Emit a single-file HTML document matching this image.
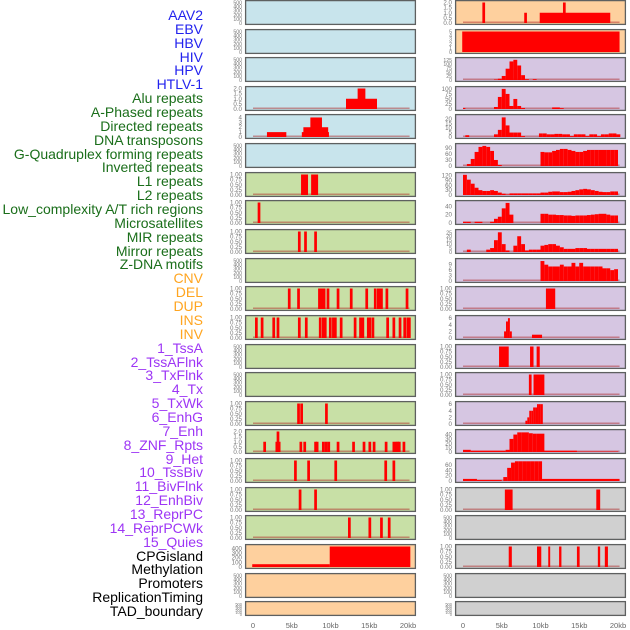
<!DOCTYPE html>
<html><head><meta charset="utf-8">
<style>
html,body{margin:0;padding:0;background:#fff;}
#wrap{position:relative;width:630px;height:630px;overflow:hidden;font-family:"Liberation Sans",sans-serif;}
.lab{position:absolute;right:427px;font-size:14px;line-height:14px;white-space:nowrap;}
svg{position:absolute;left:0;top:0;}
</style></head>
<body>
<div id="wrap">
<svg id="chart" width="630" height="630"></svg>
</div>
<script>
// ---- labels ----
const labelTexts=["AAV2","EBV","HBV","HIV","HPV","HTLV-1","Alu repeats","A-Phased repeats","Directed repeats","DNA transposons","G-Quadruplex forming repeats","Inverted repeats","L1 repeats","L2 repeats","Low_complexity A/T rich regions","Microsatellites","MIR repeats","Mirror repeats","Z-DNA motifs","CNV","DEL","DUP","INS","INV","1_TssA","2_TssAFlnk","3_TxFlnk","4_Tx","5_TxWk","6_EnhG","7_Enh","8_ZNF_Rpts","9_Het","10_TssBiv","11_BivFlnk","12_EnhBiv","13_ReprPC","14_ReprPCWk","15_Quies","CPGisland","Methylation","Promoters","ReplicationTiming","TAD_boundary"];
const labelGroups=[0,0,0,0,0,0,1,1,1,1,1,1,1,1,1,1,1,1,1,2,2,2,2,2,3,3,3,3,3,3,3,3,3,3,3,3,3,3,3,4,4,4,4,4];
const groupColors=["#2222ee","#1a6e1a","#ffa520","#9d35f5","#000000"];

// ---- x axis ----
const xTicks=[0,5,10,15,20];
const xTickLabels=["0","5kb","10kb","15kb","20kb"];

// ---- panel data (segments: [startKb, endKb, value]) ----
const SP=0.35;
const L3=[[12,16,1],[13.5,14.5,2]];
const L4=[[1.8,4.3,1],[6.3,9.8,1],[6.5,9.7,2],[7.4,8.9,4]];
const L6=[[6.2,7.1,1],[7.5,8.4,1]];
const L7=[0.6];
const L8=[5.8,6.6,7.9];
const L10=[4.5,5.7,8.4,8.6,8.8,9.0,9.5,10.8,12.5,14.5,15.6,16.0,16.2,16.4,17.1,19.7];
const L11=[0.26,1.0,2.5,3.05,5.8,6.7,8.5,8.9,9.15,9.8,10.2,10.45,11.2,13.0,13.7,14.0,14.7,14.9,15.3,17.2,18.0,18.8,19.4,19.8,20.0];
const L14=[5.7,6.1,9.3];
const L15a=[1.33,2.9,3.2,6.0,6.5,7.9,8.1,8.9,9.25,9.6,10.8,12.8,14.15,14.9,15.45,17.0,18.0,18.3,18.5,18.7,19.3];
const L15b=[3.05];
const L16=[5.3,7.0,10.5,16.95,18.0];
const L17=[5.9,7.9];
const L18=[12.26,14.9,16.4,17.4];
const L19=[[-0.1,9.9,60],[9.9,20.3,460]];
const R0=[[9.9,19.0,1],[2.5,2.5+SP,2],[7.9,7.9+SP,1],[12.9,12.9+SP,2]];
const R1=[[-0.1,20.2,5]];
const R2v=[3,8,25,70,115,125,90,30,5,0,5];
const R3v=[10,60,100,75,15,50,15,5];
const R3x=[[11.5,12.5,8],[12.5,13,4],[0,0.3,5]];
const R4a=[3,8,22,13,5,5,5,1];
const R4b=[4,4,3,3,3.5,3.5,3,3,1,3,3,3,1,3,3,1,3,3,4,4,3];
const R5a=[10,35,70,95,100,95,75,30,5];
const R5b=[70,68,68,75,80,85,85,80,75,70,70,75,80,80,80,80,80,80,80,80];
const R6a=[125,95,70,45,30,25,25,30,25,15,8,3];
const R6b=[10,10,10,10,10,10,10,10,15,15,20,22,22,18,18,20,25,30,35,38,35,30,25,20,18,18,22,22];
const R7a=[3,3,0,3,3,0,0,3,10,15,35,48,20];
const R7b=[22,22,20,20,19,19,18,18,17,18,18,18,19,20,21,22,22,20,18,18];
const R8a=[0,3,0,0,0,0,3,5,15,25,10,2,0,8,20,10,2,3,3,3];
const R8b=[8,9,10,10,8,6,4,4,4,5,5,5,4,4,4,4,4,4,4,4];
const R9v=[11,9,8,8,8,9,8,8,10,8,10,8,8,8,8,8,7,7,6,6.5];
const R10=[[10.7,11.9,1]];
const R11=[[5.3,5.55,2],[5.55,5.8,5],[5.8,6.05,6],[6.05,6.3,2],[8.9,10.2,1]];
const R12=[[4.65,5.9,1],[8.65,9.1,1],[9.5,9.9,1]];
const R13=[[8.5,8.85,1],[9.1,10.5,1]];
const R14v=[1,2,4,4,5,5,6,6,6];
const R15a=[[0,1,5],[1,5.5,3],[10.15,14.7,3],[14.7,20,1]];
const R15b=[5,30,40,45,45,45,43,42,42,42];
const R16a=[[0,1.8,8],[1.8,5,4],[10.2,20.2,8]];
const R16b=[15,50,70,75,75,75,75,75,75,75];
const R17=[[5.4,6.4,1],[17.2,17.7,1]];
const R19=[[5.9,6.3,1],[9.55,10.1,1],[11.0,11.25,1],[12.4,12.7,1],[14.7,15.05,1],[17.4,17.7,1],[18.3,18.7,1]];

function spikes(a,v){return a.map(x=>[x,x+SP,v===undefined?1:v]);}
function bins(start,w,vals){return vals.map((v,i)=>[start+i*w,start+(i+1)*w,v]);}

const T500=[0,100,200,300,400,500], T1=[0,0.25,0.5,0.75,1], T1L=["0.00","0.25","0.50","0.75","1.00"];
const BLUE="#c8e4ec",GREEN="#c8e0a6",ORANGE="#fed09e",PURPLE="#d6c6e2",GRAY="#d0d0d0";
function P(bg,ticks,yMax,segs,labels,base){return {bg,ticks,yMax,segs,labels:labels||ticks.map(String),base:base!==false};}
const T2=[0,0.5,1,1.5,2],T2L=["0.0","0.5","1.0","1.5","2.0"];
const leftPanels=[
 P(BLUE,T500,500,[],null,false),P(BLUE,T500,500,[],null,false),P(BLUE,T500,500,[],null,false),
 P(BLUE,T2,2,L3,T2L),P(BLUE,[0,1,2,3,4],4.2,L4),P(BLUE,T500,500,[],null,false),
 P(GREEN,T1,1,L6,T1L),P(GREEN,T1,1,spikes(L7),T1L),P(GREEN,T1,1,spikes(L8),T1L),P(GREEN,T500,500,[],null,false),
 P(GREEN,T1,1,spikes(L10),T1L),P(GREEN,T1,1,spikes(L11),T1L),P(GREEN,T500,500,[],null,false),P(GREEN,T500,500,[],null,false),
 P(GREEN,T1,1,spikes(L14),T1L),P(GREEN,T2,2,spikes(L15a).concat(spikes(L15b,2)),T2L),P(GREEN,T1,1,spikes(L16),T1L),
 P(GREEN,T1,1,spikes(L17),T1L),P(GREEN,T1,1,spikes(L18),T1L),
 P(ORANGE,[0,100,200,300,400],440,L19),P(ORANGE,T500,500,[],null,false),P(ORANGE,T500,500,[],null,false)];
const rightPanels=[
 P(ORANGE,T2,2,R0,T2L),P(ORANGE,[0,1,2,3,4,5],5,R1),
 P(PURPLE,[0,25,50,75,100,125],127,bins(4,0.5,R2v)),P(PURPLE,[0,25,50,75,100],102,bins(4,0.5,R3v).concat(R3x)),
 P(PURPLE,[0,5,10,15,20],23,bins(4,0.5,R4a).concat(bins(9.8,0.5,R4b),[[0.3,0.8,2]])),
 P(PURPLE,[0,30,60,90],102,bins(0.5,0.5,R5a).concat(bins(10,0.5,R5b))),
 P(PURPLE,[0,30,60,90,120],127,bins(0,0.5,R6a).concat(bins(6,0.5,R6b))),
 P(PURPLE,[0,20,40],49,bins(0,0.5,R7a).concat(bins(10,0.5,R7b))),
 P(PURPLE,[0,5,10,15,20,25],26,bins(0,0.5,R8a).concat(bins(10,0.5,R8b))),
 P(PURPLE,[0,3,6,9],11.3,bins(10,0.5,R9v)),
 P(PURPLE,T1,1,R10,T1L),P(PURPLE,[0,2,4,6],6.2,R11),P(PURPLE,T1,1,R12,T1L),P(PURPLE,T1,1,R13,T1L),
 P(PURPLE,[0,2,4,6],6.2,bins(8.05,0.25,R14v)),
 P(PURPLE,[0,10,20,30,40],47,R15a.concat(bins(5.5,0.5,R15b))),
 P(PURPLE,[0,20,40,60],78,R16a.concat(bins(5.2,0.5,R16b))),
 P(GRAY,T1,1,R17,T1L),P(GRAY,T500,500,[],null,false),P(GRAY,T1,1,R19,T1L),
 P(GRAY,T500,500,[],null,false),P(GRAY,T500,500,[],null,false)];

const rowTops=[0,29,57,86,114,143,172,200,229,258,286,315,344,372,401,429,458,487,515,544,573,601];
const NS="http://www.w3.org/2000/svg";
const svg=document.getElementById('chart');
function mk(tag,attrs,parent){const e=document.createElementNS(NS,tag);for(const k in attrs)e.setAttribute(k,attrs[k]);(parent||svg).appendChild(e);return e;}

// labels
const wrap=document.getElementById('wrap');
labelTexts.forEach((t,i)=>{
 const d=document.createElement('div');
 d.className='lab';
 d.textContent=t;
 d.style.top=(15+i*13.86-7)+'px';
 d.style.color=groupColors[labelGroups[i]];
 
 
 wrap.appendChild(d);
});

function drawPanel(p,x0,i,side){
 const top=rowTops[i], h=(i===21?15:25), w=171;
 const g=mk('g',{});
 
 
 mk('rect',{x:x0,y:top,width:w,height:h,fill:p.bg},g);
 const yb=top+h-2, yt=top+2.5;
 const xs=kb=>x0+8+kb*7.75;
 const ys=v=>yb-Math.min(v,p.yMax)/p.yMax*(yb-yt);
 if(p.base){
  const bl=mk('rect',{x:xs(0),y:yb-1.5,width:xs(20.2)-xs(0),height:1.5,fill:'rgba(170,30,30,0.45)'},g);
  
  
 }
 p.segs.forEach(s=>{
  if(s[2]<=0)return;
  const r=mk('rect',{x:xs(s[0]),y:ys(s[2]),width:Math.max(0.8,xs(s[1])-xs(s[0])),height:yb-ys(s[2]),fill:'#ff0000'},g);
  
  
 });
 mk('rect',{x:x0+0.6,y:top+0.6,width:w-1.2,height:h-1.2,fill:'none',stroke:'#5e6060','stroke-width':1.3},g);
 const fs=(p.ticks.length>5 && h>20)?5.2:6.2;
 p.ticks.forEach((t,k)=>{
  const tx=mk('text',{x:x0-3,y:ys(t)+2,'text-anchor':'end','font-size':(i===21?4:fs),fill:'#777','font-family':'Liberation Sans, sans-serif'},g);
  tx.textContent=p.labels[k];
  
  
 });
}
leftPanels.forEach((p,i)=>drawPanel(p,245,i,'left'));
rightPanels.forEach((p,i)=>drawPanel(p,455,i,'right'));

[245,455].forEach((x0,c)=>{
 xTicks.forEach((t,k)=>{
  const tx=mk('text',{x:x0+8+t*7.75,y:628,'text-anchor':'middle','font-size':7.5,fill:'#666','font-family':'Liberation Sans, sans-serif'});
  tx.textContent=xTickLabels[k];
  
  
 });
});
</script>
</body></html>
